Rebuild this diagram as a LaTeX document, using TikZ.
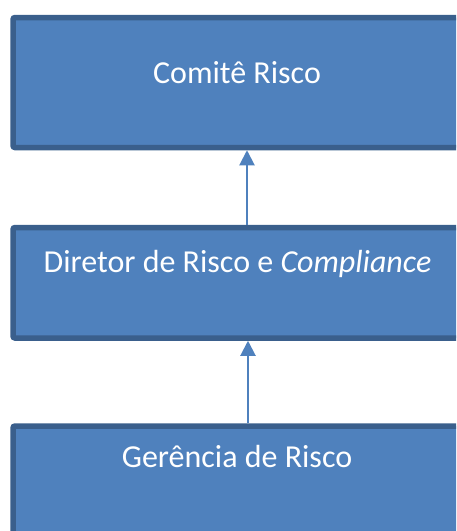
\documentclass[tikz,border=0pt]{standalone}
\usepackage{fontspec}
\setmainfont{Carlito}
\usetikzlibrary{arrows.meta}
\definecolor{boxblau}{HTML}{4F81BD}
\definecolor{boxrand}{HTML}{3A5F8C}
\tikzset{
  riskbox/.style={draw=boxrand,fill=boxblau,line width=5.5pt,rounded corners=2pt,
    minimum width=448pt,inner sep=0pt},
  risktext/.style={anchor=base,text=white,font=\fontsize{32}{38}\selectfont},
  pfeil/.style={draw=boxblau,line width=2pt,-{Triangle[width=15pt,length=15pt]}}
}

\begin{document}
\begin{tikzpicture}[x=1pt,y=-1pt]
	\useasboundingbox (0,0) rectangle (456,531);
	\clip (0,0) rectangle (456,531);
	% Kaesten zeichnen
	\node[riskbox,minimum height=130pt] (comite) at (237,82.5) {};
	\node[riskbox,minimum height=110.5pt] (diretor) at (237,282.75) {};
	\node[riskbox,minimum height=134pt] (gerencia) at (237,493) {};
	% Texte
	\node[risktext] (comite-t) at (237,83) {Comitê Risco};
	\node[risktext] (diretor-t) at (237.5,272) {Diretor de Risco e \textit{Compliance}};
	\node[risktext] (gerencia-t) at (237,467) {Gerência de Risco};
	% Pfeile
	\draw[pfeil] ([xshift=10pt]diretor.north) -- ([xshift=10pt]comite.south);
	\draw[pfeil] ([xshift=11pt]gerencia.north) -- ([xshift=11pt]diretor.south);
\end{tikzpicture}
\end{document}
